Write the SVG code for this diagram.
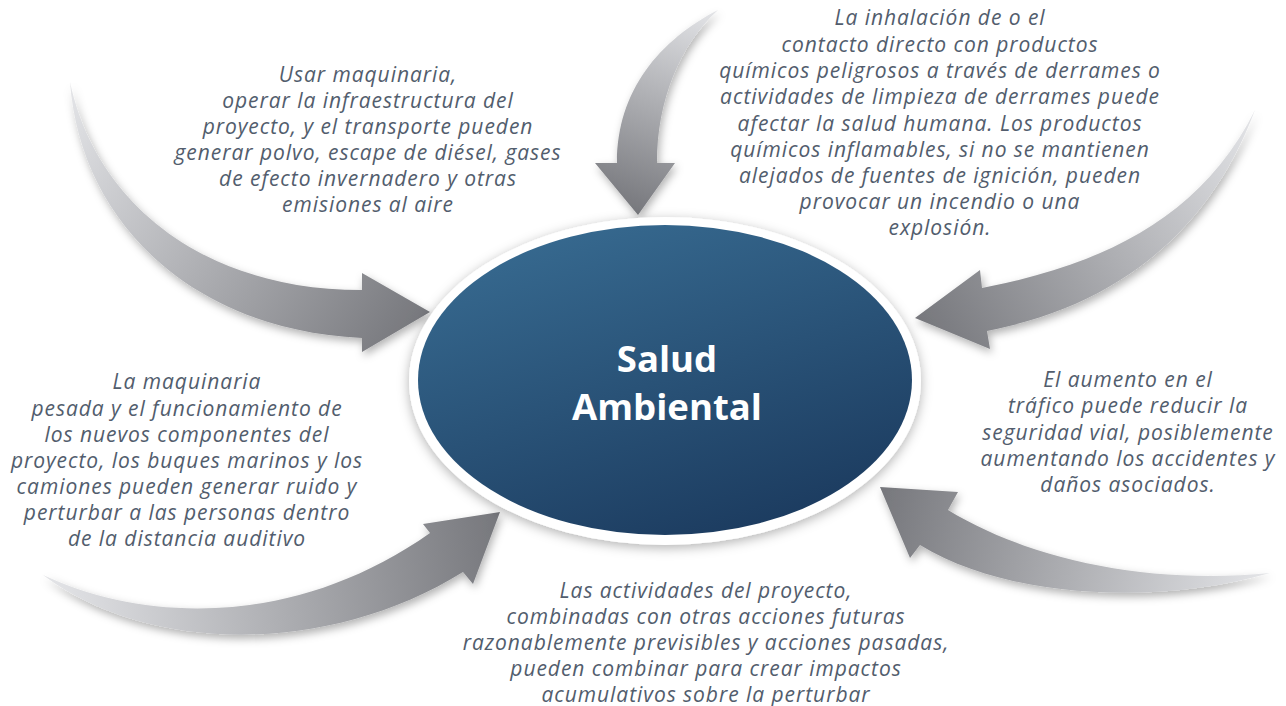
<svg xmlns="http://www.w3.org/2000/svg" width="1286" height="706" viewBox="0 0 1286 706">
<style>
.t{font-family:"Open Sans","Noto Sans","Liberation Sans",sans-serif;font-style:italic;font-size:21px;letter-spacing:0.95px;fill:#525d6d;text-anchor:middle}
.title{font-family:"Open Sans","Noto Sans","Liberation Sans",sans-serif;font-weight:bold;font-size:36.5px;fill:#ffffff;text-anchor:middle}
.arrow{filter:url(#sh)}
</style>
<defs>
<filter id="sh" x="-20%" y="-20%" width="140%" height="140%">
<feDropShadow dx="2" dy="4" stdDeviation="4" flood-color="#000" flood-opacity="0.3"/>
</filter>
<filter id="esh" x="-20%" y="-20%" width="140%" height="140%">
<feDropShadow dx="0" dy="3" stdDeviation="6" flood-color="#000" flood-opacity="0.3"/>
</filter>
<linearGradient id="eg" x1="0.25" y1="0" x2="0.75" y2="1">
<stop offset="0" stop-color="#376a90"/>
<stop offset="1" stop-color="#1b3a5e"/>
</linearGradient>
<linearGradient id="g1" gradientUnits="userSpaceOnUse" x1="70" y1="82" x2="430" y2="312">
<stop offset="0" stop-color="#e4e5e8"/><stop offset="1" stop-color="#76777c"/>
</linearGradient>
<linearGradient id="g2" gradientUnits="userSpaceOnUse" x1="718" y1="10" x2="638" y2="215">
<stop offset="0" stop-color="#e4e5e8"/><stop offset="1" stop-color="#76777c"/>
</linearGradient>
<linearGradient id="g3" gradientUnits="userSpaceOnUse" x1="1255" y1="110" x2="915" y2="318">
<stop offset="0" stop-color="#e4e5e8"/><stop offset="1" stop-color="#76777c"/>
</linearGradient>
<linearGradient id="g4" gradientUnits="userSpaceOnUse" x1="1270" y1="573" x2="880" y2="487">
<stop offset="0" stop-color="#e4e5e8"/><stop offset="1" stop-color="#76777c"/>
</linearGradient>
<linearGradient id="g5" gradientUnits="userSpaceOnUse" x1="43" y1="575" x2="500" y2="512">
<stop offset="0" stop-color="#e4e5e8"/><stop offset="1" stop-color="#76777c"/>
</linearGradient>
</defs>
<rect width="1286" height="706" fill="#ffffff"/>
<g id="connectors">
<path class="arrow" fill="url(#g1)" d="M70,82 C95,200 200,290 362,290 L362,273 L430,312 L362,352 L362,338 C190,330 80,220 70,82 Z"/>
<path class="arrow" fill="url(#g2)" d="M718,10 C660,40 617,90 617,163 L595,163 L638,215 L675,163 L657,163 C657,100 680,45 718,10 Z"/>
<path class="arrow" fill="url(#g3)" d="M1255,110 C1200,220 1100,265 982,288 L980,270 L915,318 L990,349 L987,331 C1120,305 1210,230 1255,110 Z"/>
<path class="arrow" fill="url(#g4)" d="M1270,573 C1150,585 1030,560 948,510 L958,492 L880,487 L910,558 L920,545 C1010,600 1160,605 1270,573 Z"/>
<path class="arrow" fill="url(#g5)" d="M43,575 C150,625 300,625 430,533 L423,524 L500,512 L473,584 L463,572 C330,655 150,655 43,575 Z"/>
</g>
<g id="center">
<ellipse cx="665" cy="381" rx="256" ry="164" fill="#ffffff" filter="url(#esh)"/>
<ellipse cx="665" cy="380" rx="247" ry="155" fill="url(#eg)"/>
<text class="title" x="667" y="372">Salud</text>
<text class="title" x="667" y="420">Ambiental</text>
</g>
<g id="n-air">
<text class="t" x="368" y="82">Usar maquinaria,</text>
<text class="t" x="368" y="108">operar la infraestructura del</text>
<text class="t" x="368" y="134">proyecto, y el transporte pueden</text>
<text class="t" x="368" y="160">generar polvo, escape de diésel, gases</text>
<text class="t" x="368" y="186">de efecto invernadero y otras</text>
<text class="t" x="368" y="212">emisiones al aire</text>
</g>
<g id="n-chem">
<text class="t" x="940" y="25">La inhalación de o el</text>
<text class="t" x="940" y="52">contacto directo con productos</text>
<text class="t" x="940" y="78">químicos peligrosos a través de derrames o</text>
<text class="t" x="940" y="104">actividades de limpieza de derrames puede</text>
<text class="t" x="940" y="131">afectar la salud humana. Los productos</text>
<text class="t" x="940" y="157">químicos inflamables, si no se mantienen</text>
<text class="t" x="940" y="183">alejados de fuentes de ignición, pueden</text>
<text class="t" x="940" y="209">provocar un incendio o una</text>
<text class="t" x="940" y="235">explosión.</text>
</g>
<g id="n-noise">
<text class="t" x="187" y="389">La maquinaria</text>
<text class="t" x="187" y="416">pesada y el funcionamiento de</text>
<text class="t" x="187" y="442">los nuevos componentes del</text>
<text class="t" x="187" y="468">proyecto, los buques marinos y los</text>
<text class="t" x="187" y="494">camiones pueden generar ruido y</text>
<text class="t" x="187" y="520">perturbar a las personas dentro</text>
<text class="t" x="187" y="546">de la distancia auditivo</text>
</g>
<g id="n-traffic">
<text class="t" x="1128" y="387">El aumento en el</text>
<text class="t" x="1128" y="413">tráfico puede reducir la</text>
<text class="t" x="1128" y="440">seguridad vial, posiblemente</text>
<text class="t" x="1128" y="466">aumentando los accidentes y</text>
<text class="t" x="1128" y="492">daños asociados.</text>
</g>
<g id="n-cumulative">
<text class="t" x="706" y="598">Las actividades del proyecto,</text>
<text class="t" x="706" y="624">combinadas con otras acciones futuras</text>
<text class="t" x="706" y="650">razonablemente previsibles y acciones pasadas,</text>
<text class="t" x="706" y="676">pueden combinar para crear impactos</text>
<text class="t" x="706" y="702">acumulativos sobre la perturbar</text>
</g>
</svg>
